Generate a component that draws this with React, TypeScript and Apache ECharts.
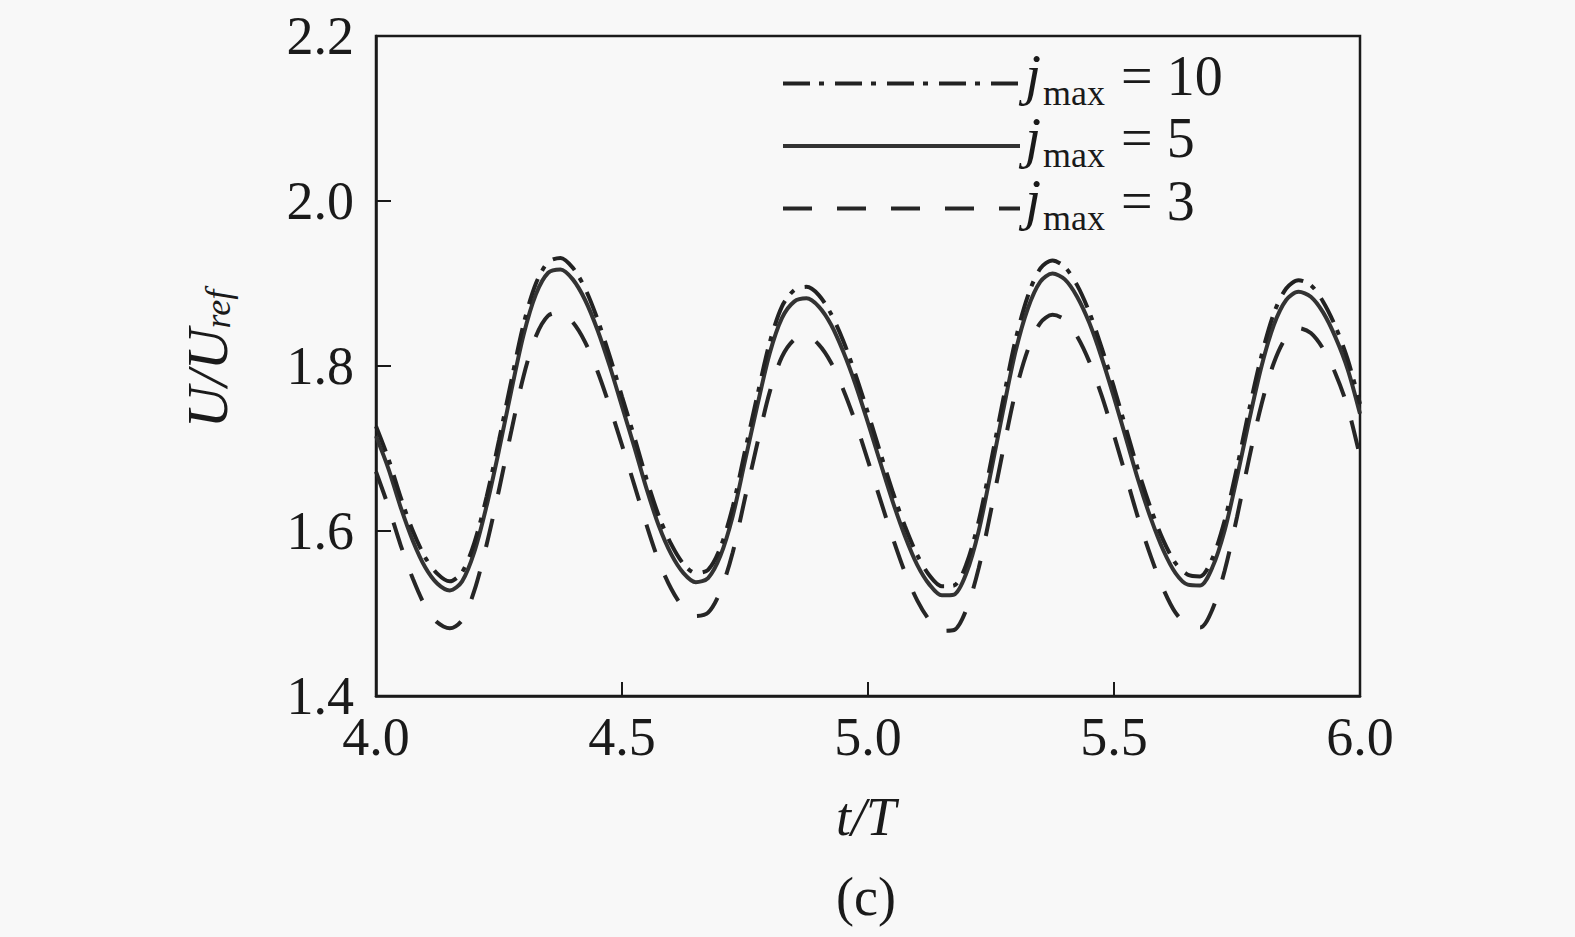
import React, { useEffect, useRef } from "react";
import * as echarts from "echarts";

const T = [
  4.0, 4.025, 4.05, 4.075, 4.1, 4.125, 4.15, 4.175, 4.2, 4.225, 4.25, 4.275, 4.3, 4.325, 4.35, 4.375,
  4.4, 4.425, 4.45, 4.475, 4.5, 4.525, 4.55, 4.575, 4.6, 4.625, 4.65, 4.675, 4.7, 4.725, 4.75, 4.775,
  4.8, 4.825, 4.85, 4.875, 4.9, 4.925, 4.95, 4.975, 5.0, 5.025, 5.05, 5.075, 5.1, 5.125, 5.15, 5.175,
  5.2, 5.225, 5.25, 5.275, 5.3, 5.325, 5.35, 5.375, 5.4, 5.425, 5.45, 5.475, 5.5, 5.525, 5.55, 5.575,
  5.6, 5.625, 5.65, 5.675, 5.7, 5.725, 5.75, 5.775, 5.8, 5.825, 5.85, 5.875, 5.9, 5.925, 5.95, 5.975, 6.0,
];

const J10 = [
  1.727, 1.688, 1.641, 1.6, 1.568, 1.548, 1.539, 1.55, 1.586, 1.642, 1.71, 1.782, 1.851, 1.9, 1.926, 1.931,
  1.919, 1.894, 1.857, 1.812, 1.763, 1.714, 1.663, 1.618, 1.584, 1.56, 1.549, 1.553, 1.58, 1.629, 1.697, 1.764,
  1.828, 1.872, 1.892, 1.896, 1.886, 1.863, 1.83, 1.789, 1.743, 1.695, 1.648, 1.606, 1.571, 1.546, 1.533, 1.534,
  1.56, 1.612, 1.684, 1.76, 1.832, 1.885, 1.918, 1.928, 1.92, 1.898, 1.865, 1.822, 1.774, 1.723, 1.672, 1.627,
  1.589, 1.561, 1.547, 1.545, 1.567, 1.613, 1.677, 1.748, 1.813, 1.864, 1.894, 1.904, 1.898, 1.878, 1.848, 1.808, 1.754,
];

const J5 = [
  1.715, 1.676, 1.629, 1.588, 1.556, 1.536, 1.528, 1.539, 1.575, 1.631, 1.698, 1.77, 1.838, 1.887, 1.913, 1.917,
  1.905, 1.88, 1.844, 1.8, 1.751, 1.702, 1.651, 1.606, 1.572, 1.549, 1.538, 1.543, 1.57, 1.618, 1.685, 1.752,
  1.815, 1.858, 1.878, 1.882, 1.872, 1.85, 1.817, 1.777, 1.731, 1.683, 1.636, 1.594, 1.559, 1.535, 1.522, 1.523,
  1.549, 1.6, 1.672, 1.747, 1.818, 1.87, 1.902, 1.912, 1.905, 1.884, 1.852, 1.81, 1.762, 1.711, 1.66, 1.615,
  1.577, 1.549, 1.535, 1.534, 1.556, 1.601, 1.665, 1.735, 1.8, 1.85, 1.88, 1.89, 1.884, 1.865, 1.835, 1.796, 1.742,
];

const J3 = [
  1.672, 1.63, 1.583, 1.542, 1.509, 1.489, 1.482, 1.492, 1.528, 1.584, 1.65, 1.721, 1.788, 1.836, 1.861, 1.865,
  1.853, 1.829, 1.794, 1.751, 1.704, 1.656, 1.607, 1.563, 1.53, 1.507, 1.497, 1.501, 1.527, 1.574, 1.64, 1.706,
  1.768, 1.811, 1.832, 1.836, 1.826, 1.804, 1.771, 1.731, 1.685, 1.638, 1.592, 1.55, 1.516, 1.492, 1.479, 1.48,
  1.505, 1.555, 1.625, 1.699, 1.769, 1.82, 1.852, 1.862, 1.856, 1.836, 1.805, 1.764, 1.716, 1.665, 1.614, 1.569,
  1.53, 1.501, 1.486, 1.483, 1.505, 1.552, 1.617, 1.689, 1.754, 1.804, 1.835, 1.846, 1.84, 1.821, 1.791, 1.75, 1.69,
];

const SERIES_NAMES = ["jmax = 10", "jmax = 5", "jmax = 3"];
const LEGEND_NUMS = ["10", "5", "3"];

const FONT = "'Liberation Serif', 'Times New Roman', serif";
const INK = "#1a1a1a";

export default function App() {
  const ref = useRef<HTMLDivElement>(null);

  useEffect(() => {
    if (!ref.current) return;
    const chart = echarts.init(ref.current, null, { renderer: "svg" });
    const pairs = (vals: number[]) => T.map((t, i) => [t, vals[i]]);

    const legendRich = {
      i: { fontFamily: FONT, fontStyle: "italic", fontSize: 58, lineHeight: 60, verticalAlign: "bottom", color: INK, padding: [0, 0, 7, 0] },
      s: { fontFamily: FONT, fontSize: 36, lineHeight: 12, verticalAlign: "bottom", color: INK, padding: [0, 2, 0, 2] },
      n: { fontFamily: FONT, fontSize: 56, lineHeight: 60, verticalAlign: "bottom", color: INK, padding: [0, 0, 7, 0] },
    };
    const nameRich = {
      i: { fontFamily: FONT, fontStyle: "italic", fontSize: 58, lineHeight: 60, verticalAlign: "bottom", fill: INK, color: INK },
      si: { fontFamily: FONT, fontStyle: "italic", fontSize: 36, lineHeight: 15, verticalAlign: "bottom", fill: INK, color: INK },
    };

    chart.setOption({
      animation: false,
      backgroundColor: "#f8f8f8",
      grid: {
        left: 376,
        right: 215,
        top: 36,
        bottom: 241,
        show: true,
        borderColor: INK,
        borderWidth: 2.5,
        backgroundColor: "transparent",
      },
      legend: {
        orient: "vertical",
        left: 776,
        top: 40.5,
        itemWidth: 237,
        itemHeight: 14,
        itemGap: -2.5,
        data: SERIES_NAMES,
        itemStyle: { opacity: 0 },
        lineStyle: { width: 4 },
        formatter: (name: string) => {
          const idx = SERIES_NAMES.indexOf(name);
          return `{i|j}{s|max}{n| = ${LEGEND_NUMS[idx]}}`;
        },
        textStyle: { rich: legendRich, fontFamily: FONT, fontSize: 56, color: INK, padding: [0, 0, 6, 0] },
      },
      xAxis: {
        type: "value",
        min: 4,
        max: 6,
        interval: 0.5,
        axisLine: { show: true, lineStyle: { color: INK, width: 2.5 } },
        axisTick: { show: true, inside: true, length: 14, lineStyle: { color: INK, width: 2 } },
        splitLine: { show: false },
        axisLabel: {
          margin: 14,
          fontFamily: FONT,
          fontSize: 54,
          color: INK,
          formatter: (v: number) => v.toFixed(1),
        },
      },
      yAxis: {
        type: "value",
        min: 1.4,
        max: 2.2,
        interval: 0.2,
        axisLine: { show: true, lineStyle: { color: INK, width: 2.5 } },
        axisTick: { show: true, inside: true, length: 15, lineStyle: { color: INK, width: 2 } },
        splitLine: { show: false },
        axisLabel: {
          margin: 22,
          fontFamily: FONT,
          fontSize: 54,
          color: INK,
          formatter: (v: number) => v.toFixed(1),
        },
      },
      graphic: [
        {
          type: "text",
          x: 206,
          y: 359,
          rotation: Math.PI / 2,
          style: {
            text: "{i|U/U}{si|ref}",
            rich: nameRich,
            align: "center",
            verticalAlign: "middle",
            fill: INK,
          },
        },
        {
          type: "text",
          x: 866,
          y: 817,
          style: {
            text: "t/T",
            fontFamily: FONT,
            fontStyle: "italic",
            fontSize: 54,
            fill: INK,
            align: "center",
            verticalAlign: "middle",
          },
        },
        {
          type: "text",
          x: 866,
          y: 897,
          style: {
            text: "(c)",
            fontFamily: FONT,
            fontSize: 54,
            fill: INK,
            align: "center",
            verticalAlign: "middle",
          },
        },
      ],
      series: [
        {
          name: SERIES_NAMES[2],
          type: "line",
          data: pairs(J3),
          symbol: "none",
          smooth: 0.3,
          color: "#262626",
          lineStyle: { color: "#262626", width: 4, type: [29, 25] },
        },
        {
          name: SERIES_NAMES[1],
          type: "line",
          data: pairs(J5),
          symbol: "none",
          smooth: 0.3,
          color: "#333333",
          lineStyle: { color: "#333333", width: 4, type: "solid" },
        },
        {
          name: SERIES_NAMES[0],
          type: "line",
          data: pairs(J10),
          symbol: "none",
          smooth: 0.3,
          color: "#222222",
          lineStyle: { color: "#222222", width: 4, type: [27, 9, 5, 11] },
        },
      ],
    });

    return () => chart.dispose();
  }, []);

  return (
    <div
      ref={ref}
      style={{ position: "fixed", left: 0, top: 0, width: 1575, height: 937, background: "#f8f8f8" }}
    />
  );
}
